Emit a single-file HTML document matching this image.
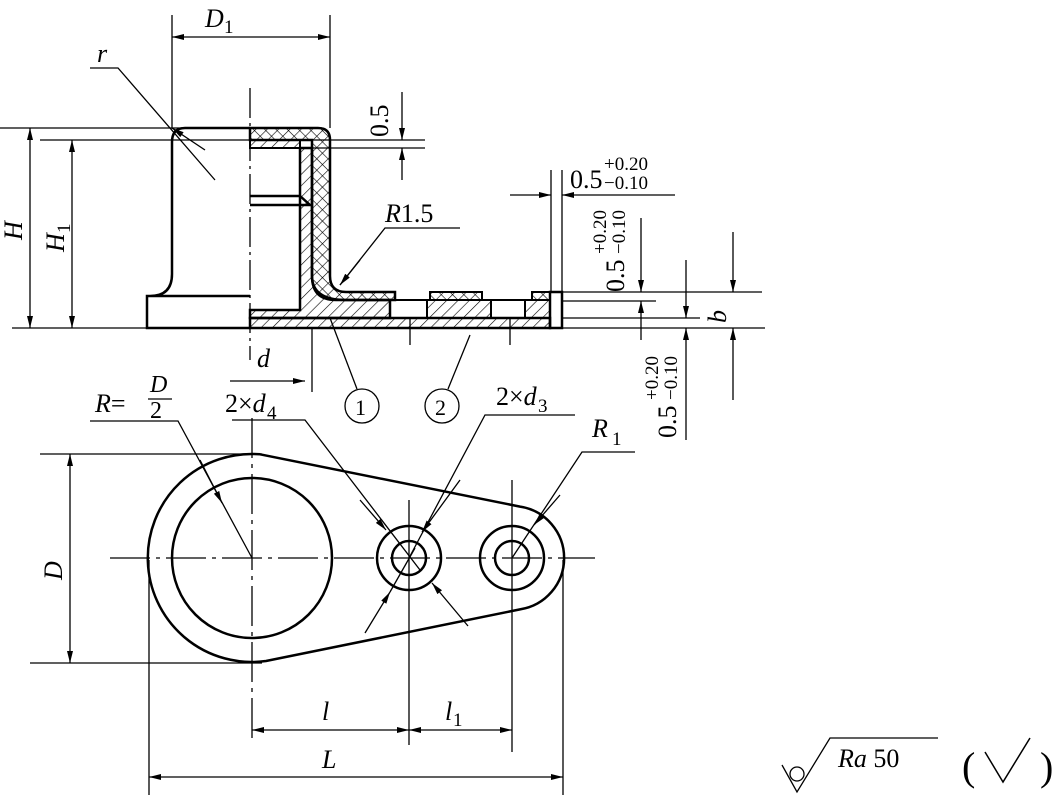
<!DOCTYPE html>
<html><head><meta charset="utf-8"><style>
html,body{margin:0;padding:0;background:#fff;}
svg{display:block}
text{font-family:"Liberation Serif",serif;fill:#000}
</style></head><body>
<svg width="1058" height="806" viewBox="0 0 1058 806" xmlns="http://www.w3.org/2000/svg">
<defs>
<marker id="a" viewBox="0 0 12 6" refX="12" refY="3" markerWidth="12" markerHeight="6" orient="auto-start-reverse" markerUnits="userSpaceOnUse"><path d="M0,0 L12,3 L0,6 Z" fill="#000"/></marker>
<pattern id="h" width="8" height="8" patternUnits="userSpaceOnUse" patternTransform="rotate(45)"><line x1="0" y1="0" x2="0" y2="8" stroke="#000" stroke-width="1.2"/></pattern>
<pattern id="x" width="8" height="8" patternUnits="userSpaceOnUse" patternTransform="rotate(45)"><line x1="0" y1="0" x2="0" y2="8" stroke="#000" stroke-width="1.2"/><line x1="0" y1="0" x2="8" y2="0" stroke="#000" stroke-width="1.2"/></pattern>
</defs>
<g stroke="#000" fill="none" stroke-width="1.3">
<path d="M250,128 H318 Q330,128 330,140 V276 Q330,292 346,292 H395 V300 H346 Q312,300 312,276 V140 H250 Z" fill="url(#x)" stroke-width="2.5"/>
<rect x="430" y="292" width="52" height="8" fill="url(#x)" stroke-width="2"/>
<rect x="532" y="292" width="18" height="8" fill="url(#x)" stroke-width="2"/>
<rect x="250" y="140" width="50" height="8" fill="url(#h)" stroke-width="2"/>
<path d="M300,148 H312 V276 Q312,300 336,300 H390 V318 H250 V310 H300 Z" fill="url(#h)" stroke-width="2.5"/>
<rect x="427" y="300" width="64" height="18" fill="url(#h)" stroke-width="2"/>
<rect x="525" y="300" width="25" height="18" fill="url(#h)" stroke-width="2"/>
<rect x="250" y="318" width="300" height="10" fill="url(#h)" stroke-width="2.5"/>
<rect x="390" y="300" width="37" height="18" stroke-width="2"/>
<rect x="491" y="300" width="34" height="18" stroke-width="2"/>
<rect x="550" y="292" width="12" height="36" stroke-width="2.5"/>
<path d="M250,196 H300 L310,205 H250" stroke-width="2.5"/>
<path d="M250,128 H185 Q172,128 172,142 V274 Q172,296 150,296 H147 V328 H250 M147,296 H250" stroke-width="2.5"/>
<line x1="12" y1="328" x2="765" y2="328"/>
<line x1="250" y1="88" x2="250" y2="360" stroke-dasharray="30,5,3,5"/>
<line x1="0" y1="128" x2="200" y2="128"/>
<line x1="40" y1="140" x2="425" y2="140"/>
<line x1="312" y1="148" x2="425" y2="148"/>
<line x1="562" y1="292" x2="762" y2="292"/>
<line x1="562" y1="301" x2="656" y2="301"/>
<line x1="562" y1="318" x2="700" y2="318"/>
<line x1="172" y1="15" x2="172" y2="128"/>
<line x1="330" y1="15" x2="330" y2="128"/>
<line x1="551" y1="170" x2="551" y2="292"/>
<line x1="562" y1="170" x2="562" y2="292"/>
<line x1="312" y1="328" x2="312" y2="392"/>
<line x1="410" y1="318" x2="410" y2="345"/>
<line x1="510" y1="318" x2="510" y2="345"/>
<line x1="172" y1="37" x2="330" y2="37" marker-start="url(#a)" marker-end="url(#a)"/>
<line x1="30" y1="128" x2="30" y2="328" marker-start="url(#a)" marker-end="url(#a)"/>
<line x1="72" y1="140" x2="72" y2="328" marker-start="url(#a)" marker-end="url(#a)"/>
<path d="M90,68 H118 L215,180"/>
<line x1="205" y1="150" x2="172" y2="128" marker-end="url(#a)"/>
<line x1="402" y1="92" x2="402" y2="140" marker-end="url(#a)"/>
<line x1="402" y1="180" x2="402" y2="148" marker-end="url(#a)"/>
<line x1="510" y1="195" x2="551" y2="195" marker-end="url(#a)"/>
<line x1="675" y1="195" x2="562" y2="195" marker-end="url(#a)"/>
<path d="M460,228 H385 L340,285" />
<line x1="360" y1="260" x2="340" y2="285" marker-end="url(#a)"/>
<line x1="641" y1="218" x2="641" y2="292" marker-end="url(#a)"/>
<line x1="641" y1="340" x2="641" y2="301" marker-end="url(#a)"/>
<line x1="686" y1="260" x2="686" y2="318" marker-end="url(#a)"/>
<line x1="686" y1="440" x2="686" y2="328" marker-end="url(#a)"/>
<line x1="733" y1="232" x2="733" y2="292" marker-end="url(#a)"/>
<line x1="733" y1="400" x2="733" y2="328" marker-end="url(#a)"/>
<line x1="230" y1="381" x2="305" y2="381" marker-end="url(#a)"/>
<circle cx="362" cy="406" r="17"/>
<circle cx="442" cy="406" r="17"/>
<line x1="357" y1="389" x2="330" y2="318"/>
<line x1="448" y1="389" x2="470" y2="335"/>
<path d="M260,454.3 L520,506.6 A52,52 0 0 1 520,609.4 L266,661 A104,104 0 1 1 260,454.3 Z" stroke-width="2.5"/>
<circle cx="252" cy="558" r="80" stroke-width="2.5"/>
<circle cx="409" cy="558" r="32" stroke-width="2.5"/>
<circle cx="409" cy="558" r="17" stroke-width="2.5"/>
<circle cx="512" cy="558" r="32" stroke-width="2.5"/>
<circle cx="512" cy="558" r="17" stroke-width="2.5"/>
<line x1="110" y1="558" x2="595" y2="558" stroke-dasharray="40,6,4,6"/>
<line x1="252" y1="418" x2="252" y2="740" stroke-dasharray="40,6,4,6"/>
<line x1="409" y1="500" x2="409" y2="745"/>
<line x1="512" y1="480" x2="512" y2="752"/>
<line x1="149" y1="560" x2="149" y2="795"/>
<line x1="563" y1="560" x2="563" y2="795"/>
<line x1="40" y1="454" x2="262" y2="454"/>
<line x1="30" y1="663" x2="262" y2="663"/>
<line x1="70" y1="454" x2="70" y2="663" marker-start="url(#a)" marker-end="url(#a)"/>
<line x1="252" y1="730" x2="409" y2="730" marker-start="url(#a)" marker-end="url(#a)"/>
<line x1="409" y1="730" x2="512" y2="730" marker-start="url(#a)" marker-end="url(#a)"/>
<line x1="149" y1="777" x2="563" y2="777" marker-start="url(#a)" marker-end="url(#a)"/>
<path d="M90,421 H178 L252,558"/>
<line x1="200" y1="460" x2="222" y2="503" marker-end="url(#a)"/>
<path d="M232,420 H305 L420,570"/>
<line x1="360" y1="500" x2="386" y2="530" marker-end="url(#a)"/>
<line x1="468" y1="626" x2="432" y2="583" marker-end="url(#a)"/>
<line x1="365" y1="633" x2="390" y2="592" marker-end="url(#a)"/>
<line x1="390" y1="592" x2="415" y2="548"/>
<path d="M575,415 H485 L409,558"/>
<line x1="460" y1="480" x2="422" y2="532" marker-end="url(#a)"/>
<path d="M635,452 H582 L512,558"/>
<line x1="560" y1="495" x2="534" y2="525" marker-end="url(#a)"/>
<circle cx="797" cy="774" r="7"/>
<path d="M782,765 L797,792 L830,738 H938"/>
</g>
<g font-size="26">
<text x="205" y="27" font-style="italic">D</text><text x="224" y="33" font-size="19">1</text>
<text x="97" y="62" font-style="italic">r</text>
<text x="22" y="240" font-style="italic" transform="rotate(-90 22 240)">H</text>
<text x="64" y="252" font-style="italic" transform="rotate(-90 64 252)">H</text>
<text x="70" y="233" font-size="19" transform="rotate(-90 70 233)">1</text>
<text x="388" y="137" transform="rotate(-90 388 137)">0.5</text>
<text x="570" y="188">0.5</text>
<text x="604" y="170" font-size="19">+0.20</text>
<text x="604" y="189" font-size="19">−0.10</text>
<text x="385" y="222"><tspan font-style="italic">R</tspan>1.5</text>
<text x="624" y="292" transform="rotate(-90 624 292)">0.5</text>
<text x="606" y="254" font-size="19" transform="rotate(-90 606 254)">+0.20</text>
<text x="625" y="254" font-size="19" transform="rotate(-90 625 254)">−0.10</text>
<text x="726" y="323" font-style="italic" transform="rotate(-90 726 323)">b</text>
<text x="676" y="438" transform="rotate(-90 676 438)">0.5</text>
<text x="658" y="400" font-size="19" transform="rotate(-90 658 400)">+0.20</text>
<text x="677" y="400" font-size="19" transform="rotate(-90 677 400)">−0.10</text>
<text x="257" y="367" font-style="italic">d</text>
<text x="355" y="415" font-size="22">1</text>
<text x="435" y="415" font-size="22">2</text>
<text x="95" y="412"><tspan font-style="italic">R</tspan>=</text>
<text x="150" y="392" font-style="italic" font-size="24">D</text>
<line x1="148" y1="399" x2="172" y2="399" stroke="#000" stroke-width="1.3"/>
<text x="150" y="418" font-size="24">2</text>
<text x="225" y="412">2×<tspan font-style="italic">d</tspan></text><text x="267" y="419" font-size="19">4</text>
<text x="496" y="405">2×<tspan font-style="italic">d</tspan></text><text x="538" y="412" font-size="19">3</text>
<text x="592" y="437" font-style="italic">R</text><text x="612" y="445" font-size="19">1</text>
<text x="62" y="580" font-style="italic" transform="rotate(-90 62 580)">D</text>
<text x="322" y="720" font-style="italic">l</text>
<text x="445" y="720" font-style="italic">l</text><text x="453" y="726" font-size="19">1</text>
<text x="322" y="768" font-style="italic">L</text>
<text x="838" y="767"><tspan font-style="italic">Ra</tspan> 50</text>
<text x="962" y="780" font-size="40">(</text>
<text x="1040" y="780" font-size="40">)</text>
</g>
<path d="M985,752 L1003,782 L1030,738" stroke="#000" fill="none" stroke-width="1.5"/>
</svg>
</body></html>
